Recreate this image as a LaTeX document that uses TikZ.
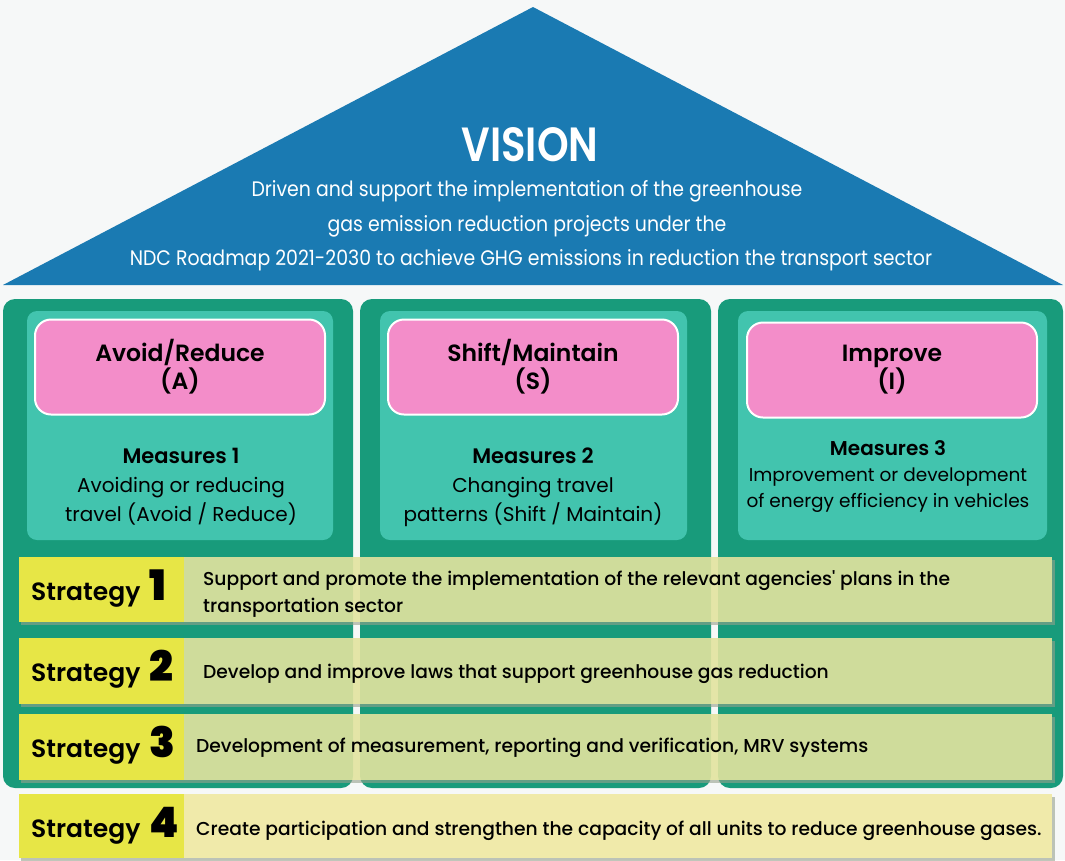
\documentclass[tikz,border=0pt]{standalone}
\usepackage{fontspec}
\setmainfont{Poppins}
\newfontfamily\medfont{Poppins Medium}
\newfontfamily\semifont{Poppins SemiBold}
\newfontfamily\visionfont{Poppins}[FakeStretch=0.9]
\newfontfamily\visionbold{Poppins SemiBold}[FakeStretch=0.84]

\definecolor{paper}{RGB}{246,248,248}
\definecolor{visionblue}{RGB}{26,122,178}
\definecolor{pillargreen}{RGB}{24,155,123}
\definecolor{innerteal}{RGB}{66,196,174}
\definecolor{titlepink}{RGB}{243,141,201}
\definecolor{stratgreen}{RGB}{227,228,159}
\definecolor{stratlight}{RGB}{240,234,170}
\definecolor{labelyellow}{RGB}{231,230,70}
\definecolor{shadowgrey}{RGB}{150,160,140}

\tikzset{
  pillar/.style={fill=pillargreen, rounded corners=12},
  innerbox/.style={fill=innerteal, rounded corners=10},
  titlebox/.style={fill=titlepink, draw=white, line width=2, rounded corners=16,
    minimum width=290, minimum height=95, align=center,
    font=\semifont\fontsize{23.5}{28}\selectfont},
  measure/.style={align=center, font=\fontsize{20}{29}\selectfont},
  stratlabel/.style={anchor=base west, inner sep=0, font=\semifont\fontsize{25}{30}\selectfont},
  strattext/.style={anchor=base west, inner sep=0, align=left,
    font=\medfont\fontsize{18.7}{27}\selectfont},
  visiontext/.style={text=white, font=\visionfont\fontsize{21}{24}\selectfont}
}

% left x, width, inner left x, inner width
\newcommand\pillar[4]{%
  \fill[pillar] (#1, 299) rectangle +(#2, 489);
  \fill[innerbox] (#3, 311) rectangle +(#4, 229);
}
% top y, height, body colour, number, body opacity
\newcommand\strategyrow[5]{%
  \fill[shadowgrey, opacity=0.6] (21, #1+#2) rectangle (1055, #1+#2+3);
  \fill[shadowgrey, opacity=0.6] (1052, #1+3) rectangle (1055, #1+#2);
  \fill[#3, fill opacity=#5] (184, #1) rectangle +(868, #2);
  \fill[labelyellow] (19, #1) rectangle +(165, #2);
  \node[stratlabel] (strat#4) at (31, #1+43)
    {Strategy\hspace{9pt}{\bfseries\fontsize{42}{42}\selectfont #4}};
}

\begin{document}
\begin{tikzpicture}[x=1pt, y=-1pt]
  \useasboundingbox (0, 0) rectangle (1065, 860);
  \fill[paper] (0, 0) rectangle (1065, 860);

  % The roof
  \fill[visionblue] (533, 7) -- (1063, 285) -- (3, 285) -- cycle;
  \node[text=white, font=\visionbold\fontsize{48}{48}\selectfont] (vision) at (530, 145) {VISION};
  \node[visiontext] (vline1) at (527, 191) {Driven and support the implementation of the greenhouse};
  \node[visiontext] (vline2) at (527, 226) {gas emission reduction projects under the};
  \node[visiontext] (vline3) at (531, 260) {NDC Roadmap 2021-2030 to achieve GHG emissions in reduction the transport sector};

  % The pillars
  \pillar{3}{350}{27}{306}
  \pillar{360}{351}{380}{307}
  \pillar{718}{345}{738}{309}

  \node[titlebox] (avoid) at (180, 367) {Avoid/Reduce\\(A)};
  \node[titlebox] (shift) at (533, 367) {Shift/Maintain\\(S)};
  \node[titlebox] (improve) at (892, 370) {Improve\\(I)};

  \node[measure] (measure1) at (181, 487) {{\semifont\fontsize{21}{29}\selectfont Measures 1}\\Avoiding or reducing\\travel (Avoid / Reduce)};
  \node[measure] (measure2) at (533, 487) {{\semifont\fontsize{21}{29}\selectfont Measures 2}\\Changing travel\\patterns (Shift / Maintain)};
  \node[measure, font=\fontsize{18.5}{26}\selectfont] (measure3) at (888, 477) {{\semifont\fontsize{20}{26}\selectfont Measures 3}\\Improvement or development\\of energy efficiency in vehicles};

  % Strategies
  \strategyrow{557}{65}{stratgreen}{1}{0.9}
  \strategyrow{638}{66}{stratgreen}{2}{0.9}
  \strategyrow{714}{66}{stratgreen}{3}{0.9}
  \strategyrow{794}{64}{stratlight}{4}{1}

  \node[strattext] (text1) at (203, 612) {Support and promote the implementation of the relevant agencies' plans in the\\transportation sector};
  \node[strattext] (text2) at (203, 678) {Develop and improve laws that support greenhouse gas reduction};
  \node[strattext] (text3) at (196, 752) {Development of measurement, reporting and verification, MRV systems};
  \node[strattext] (text4) at (196, 835) {Create participation and strengthen the capacity of all units to reduce greenhouse gases.};
\end{tikzpicture}
\end{document}
